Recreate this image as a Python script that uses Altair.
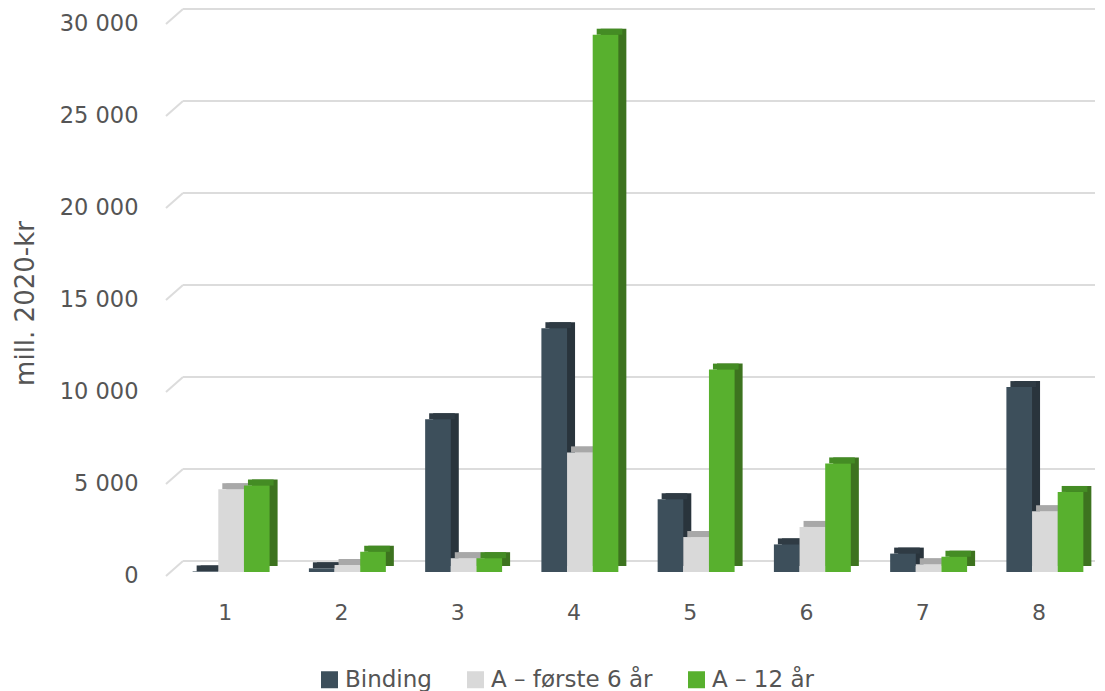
import altair as alt
import pandas as pd

categories = ["1", "2", "3", "4", "5", "6", "7", "8"]
series = ["Binding", "A – første 6 år", "A – 12 år"]
binding = [30, 200, 8300, 13250, 3950, 1500, 1000, 10050]
first6 = [4500, 380, 750, 6500, 1900, 2450, 420, 3300]
twelve = [4700, 1100, 750, 29200, 11000, 5900, 830, 4350]
grid_values = [0, 5000, 10000, 15000, 20000, 25000, 30000]

front_colors = ["#3d4f5b", "#d9d9d9", "#58b02e"]
side_colors = ["#29343c", "#bdbdbd", "#3d731f"]
top_colors = ["#2f3b44", "#a8a8a8", "#448c24"]

rows = []
for s, vals in zip(series, [binding, first6, twelve]):
    for c, v in zip(categories, vals):
        rows.append({"cat": c, "series": s, "value": v})
df = pd.DataFrame(rows)
grid_df = pd.DataFrame({"value": grid_values})

FONT = "DejaVu Sans"
W, H = 930, 552
PAD_INNER = 0.338
BAND = W / len(categories) * (1 - PAD_INNER)
SHIFT = 6
DX, DY = 8, 6

yscale = alt.Scale(domain=[0, 30000], nice=False)
xscale = alt.Scale(paddingInner=PAD_INNER, paddingOuter=PAD_INNER / 2)

yaxis = alt.Axis(values=grid_values, grid=False, domain=False, ticks=False,
                 labelPadding=29, labelOffset=3, labelFontSize=22.5,
                 labelColor="#555555", labelFont=FONT,
                 labelExpr="replace(format(datum.value, ','), ',', ' ')",
                 title="mill. 2020-kr", titleFontSize=26, titleFont=FONT,
                 titleColor="#555555", titleFontWeight="normal",
                 titleAngle=-90, titleX=-142, titleY=283,
                 titleAlign="center", titleBaseline="middle")
xaxis = alt.Axis(title=None, labelAngle=0, domain=False, ticks=False,
                 labelPadding=30, labelFontSize=22, labelColor="#555555",
                 labelFont=FONT, grid=False)

yenc = alt.Y("value:Q", scale=yscale, axis=yaxis, title="mill. 2020-kr")
xenc = alt.X("cat:N", sort=categories, scale=xscale, axis=xaxis)


def xoff(shift):
    return alt.XOffset("series:N", sort=series,
                       scale=alt.Scale(domain=series, range=[shift, shift + BAND],
                                       paddingInner=0, paddingOuter=0))


base = alt.Chart(df)

grid = alt.Chart(grid_df).mark_rule(color="#dcdcdc", strokeWidth=2, yOffset=-11).encode(
    x=alt.value(16), x2=alt.value(W - 2), y=yenc)
stubs = alt.Chart(grid_df).mark_rule(color="#dcdcdc", strokeWidth=2, yOffset=4, y2Offset=-11).encode(
    x=alt.value(-1), x2=alt.value(16), y=yenc, y2="value:Q")

side = base.mark_bar(yOffset=-DY, y2Offset=-DY).encode(
    x=xenc, xOffset=xoff(SHIFT + DX), y=yenc, y2=alt.datum(0),
    color=alt.Color("series:N", scale=alt.Scale(domain=series, range=side_colors), legend=None))

top = base.mark_bar(yOffset=-DY, y2Offset=0).encode(
    x=xenc, xOffset=xoff(SHIFT + DX / 2), y=yenc, y2="value:Q",
    color=alt.Color("series:N", scale=alt.Scale(domain=series, range=top_colors), legend=None))

front = base.mark_bar().encode(
    x=xenc, xOffset=xoff(SHIFT), y=yenc, y2=alt.datum(0),
    color=alt.Color("series:N", scale=alt.Scale(domain=series, range=front_colors),
                    sort=series,
                    legend=alt.Legend(title=None, orient="none", legendX=151, legendY=648,
                                      direction="horizontal", columns=3,
                                      symbolType="square", symbolSize=289,
                                      symbolStrokeWidth=0, labelFontSize=23,
                                      labelFont=FONT, labelColor="#555555",
                                      labelOffset=4, columnPadding=32,
                                      labelLimit=400, symbolOpacity=1)))

chart = alt.layer(grid, stubs, side, top, front).resolve_scale(
    color="independent", xOffset="independent").properties(
    width=W, height=H,
    autosize=alt.AutoSizeParams(type="none"),
    padding={"left": 159, "top": 12, "right": 0, "bottom": 119},
).configure_view(stroke=None)

chart.save("out.html", embed_options={"renderer": "svg", "actions": False})
